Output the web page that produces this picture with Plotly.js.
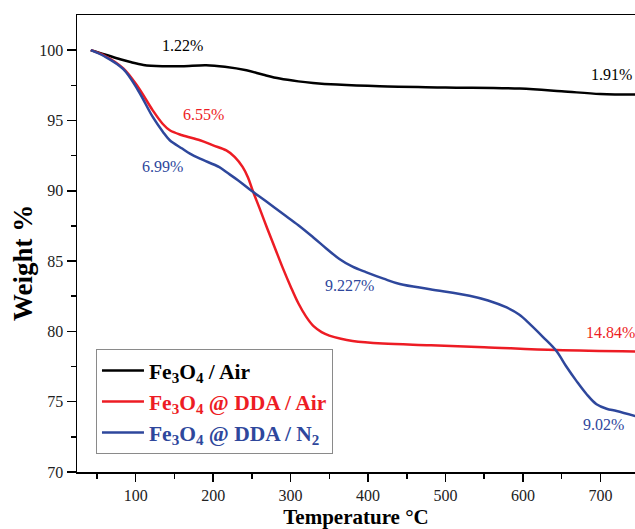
<!DOCTYPE html>
<html>
<head>
<meta charset="utf-8">
<script src="https://cdn.plot.ly/plotly-3.0.1.min.js"></script>
<style>html,body{margin:0;padding:0;background:#fff;}#chart{width:635px;height:529px;}</style>
</head>
<body>
<div id="chart"></div>
<script>
// Fe3O4 / Air
const tempAir = [42, 60, 80, 92, 110, 135, 160, 191, 215, 243, 265, 286, 310, 329, 360, 415, 500, 596, 650, 700, 745];
const weightAir = [100, 99.7, 99.35, 99.17, 98.95, 98.86, 98.86, 98.93, 98.82, 98.57, 98.25, 97.98, 97.78, 97.67, 97.55, 97.43, 97.35, 97.27, 97.08, 96.88, 96.84];

// Fe3O4 @ DDA / Air
const tempDdaAir = [42, 60, 84, 103, 122, 135, 144, 160, 183, 200, 217, 228, 238, 245, 251, 260, 270, 280, 290, 300, 310, 320, 330, 340, 350, 365, 380, 419, 480, 550, 643, 745];
const weightDdaAir = [100, 99.6, 98.7, 97.38, 95.72, 94.75, 94.3, 93.95, 93.59, 93.23, 92.87, 92.4, 91.7, 90.95, 90.02, 88.75, 87.3, 85.9, 84.5, 83.2, 82.0, 81.05, 80.35, 79.95, 79.7, 79.47, 79.32, 79.14, 79.02, 78.88, 78.67, 78.57];

// Fe3O4 @ DDA / N2
const tempDdaN2 = [42, 60, 84, 103, 122, 135, 144, 160, 170, 183, 208, 217, 232, 249, 267, 290, 310, 329, 346, 363, 380, 398, 420, 441, 480, 531, 555, 579, 595, 609, 626, 643, 656, 669, 682, 695, 708, 721, 745];
const weightDdaN2 = [100, 99.55, 98.65, 97.15, 95.25, 94.2, 93.59, 93.0, 92.64, 92.28, 91.68, 91.33, 90.75, 90.02, 89.3, 88.36, 87.55, 86.7, 85.9, 85.15, 84.6, 84.2, 83.75, 83.37, 83.0, 82.54, 82.2, 81.7, 81.2, 80.52, 79.6, 78.62, 77.5, 76.48, 75.55, 74.82, 74.5, 74.34, 73.98];

const seriesNames = [
  '<span style="color:#000000">Fe<sub>3</sub>O<sub>4</sub> / Air</span>',
  '<span style="color:#ED1C24">Fe<sub>3</sub>O<sub>4</sub> @ DDA / Air</span>',
  '<span style="color:#2E479C">Fe<sub>3</sub>O<sub>4</sub> @ DDA / N<sub>2</sub></span>'
];
const seriesColors = ['#000000', '#ED1C24', '#2E479C'];

// Loss labels
const labelTexts = ['1.22%', '1.91%', '6.55%', '14.84%', '6.99%', '9.227%', '9.02%'];
const labelX = [160.7, 714.5, 187.8, 713.2, 134.9, 376.3, 704.1];
const labelY = [100.36, 98.29, 95.44, 79.92, 91.75, 83.25, 73.39];
const labelColors = ['#000000', '#000000', '#ED1C24', '#ED1C24', '#2E479C', '#2E479C', '#2E479C'];

const yTitle = 'Weight %';
const xTitle = 'Temperature °C';

const xs = [tempAir, tempDdaAir, tempDdaN2];
const ys = [weightAir, weightDdaAir, weightDdaN2];

const traces = xs.map((x, i) => ({
  x: x, y: ys[i], type: 'scatter', mode: 'lines',
  name: seriesNames[i],
  legendgroup: 'g' + i,
  line: {color: seriesColors[i], width: 2.5, shape: 'spline', smoothing: 1}
}));

const serif = 'Liberation Serif, Times New Roman, serif';

const annotations = labelTexts.map((t, i) => ({
  x: labelX[i], y: labelY[i], xref: 'x', yref: 'y', text: t, showarrow: false,
  font: {family: serif, size: 16, color: labelColors[i]}, xanchor: 'center', yanchor: 'middle'
}));
annotations.push({
  x: -0.097, y: 0.457, xref: 'paper', yref: 'paper', text: yTitle, showarrow: false,
  textangle: -90, xanchor: 'center', yanchor: 'middle',
  font: {family: serif, size: 27, weight: 'bold', color: '#000'}
});

const layout = {
  width: 635, height: 529,
  margin: {l: 77, r: 0, t: 15, b: 57},
  paper_bgcolor: '#ffffff', plot_bgcolor: '#ffffff',
  showlegend: true,
  legend: {
    x: 0.034, y: 0.269, xanchor: 'left', yanchor: 'top',
    bordercolor: '#8a8a8a', borderwidth: 1, bgcolor: '#ffffff',
    font: {family: serif, size: 21.5, weight: 'bold', color: '#000'},
    itemwidth: 42,
    tracegroupgap: 0
  },
  xaxis: {
    range: [24.2, 744.7], showgrid: false, zeroline: false,
    showline: true, linecolor: '#000', linewidth: 1.5, mirror: true,
    ticks: 'outside', ticklen: 8, tickwidth: 1.5, tickcolor: '#000',
    tickvals: [100, 200, 300, 400, 500, 600, 700],
    tickfont: {family: serif, size: 16, color: '#222'},
    minor: {ticks: 'outside', ticklen: 5, tickwidth: 1.5, tickcolor: '#000', tickvals: [50, 150, 250, 350, 450, 550, 650]},
    title: {text: xTitle, font: {family: serif, size: 21, weight: 'bold', color: '#000'}, standoff: 6}
  },
  yaxis: {
    range: [70, 102.5], showgrid: false, zeroline: false,
    showline: true, linecolor: '#000', linewidth: 1.5,
    ticks: 'outside', ticklen: 9, tickwidth: 1.5, tickcolor: '#000',
    tickvals: [70, 75, 80, 85, 90, 95, 100],
    tickfont: {family: serif, size: 16, color: '#222'},
    minor: {ticks: 'outside', ticklen: 5, tickwidth: 1.5, tickcolor: '#000', tickvals: [72.5, 77.5, 82.5, 87.5, 92.5, 97.5]}
  },
  annotations: annotations
};

Plotly.newPlot('chart', traces, layout, {displayModeBar: false, staticPlot: true});
</script>
</body>
</html>
